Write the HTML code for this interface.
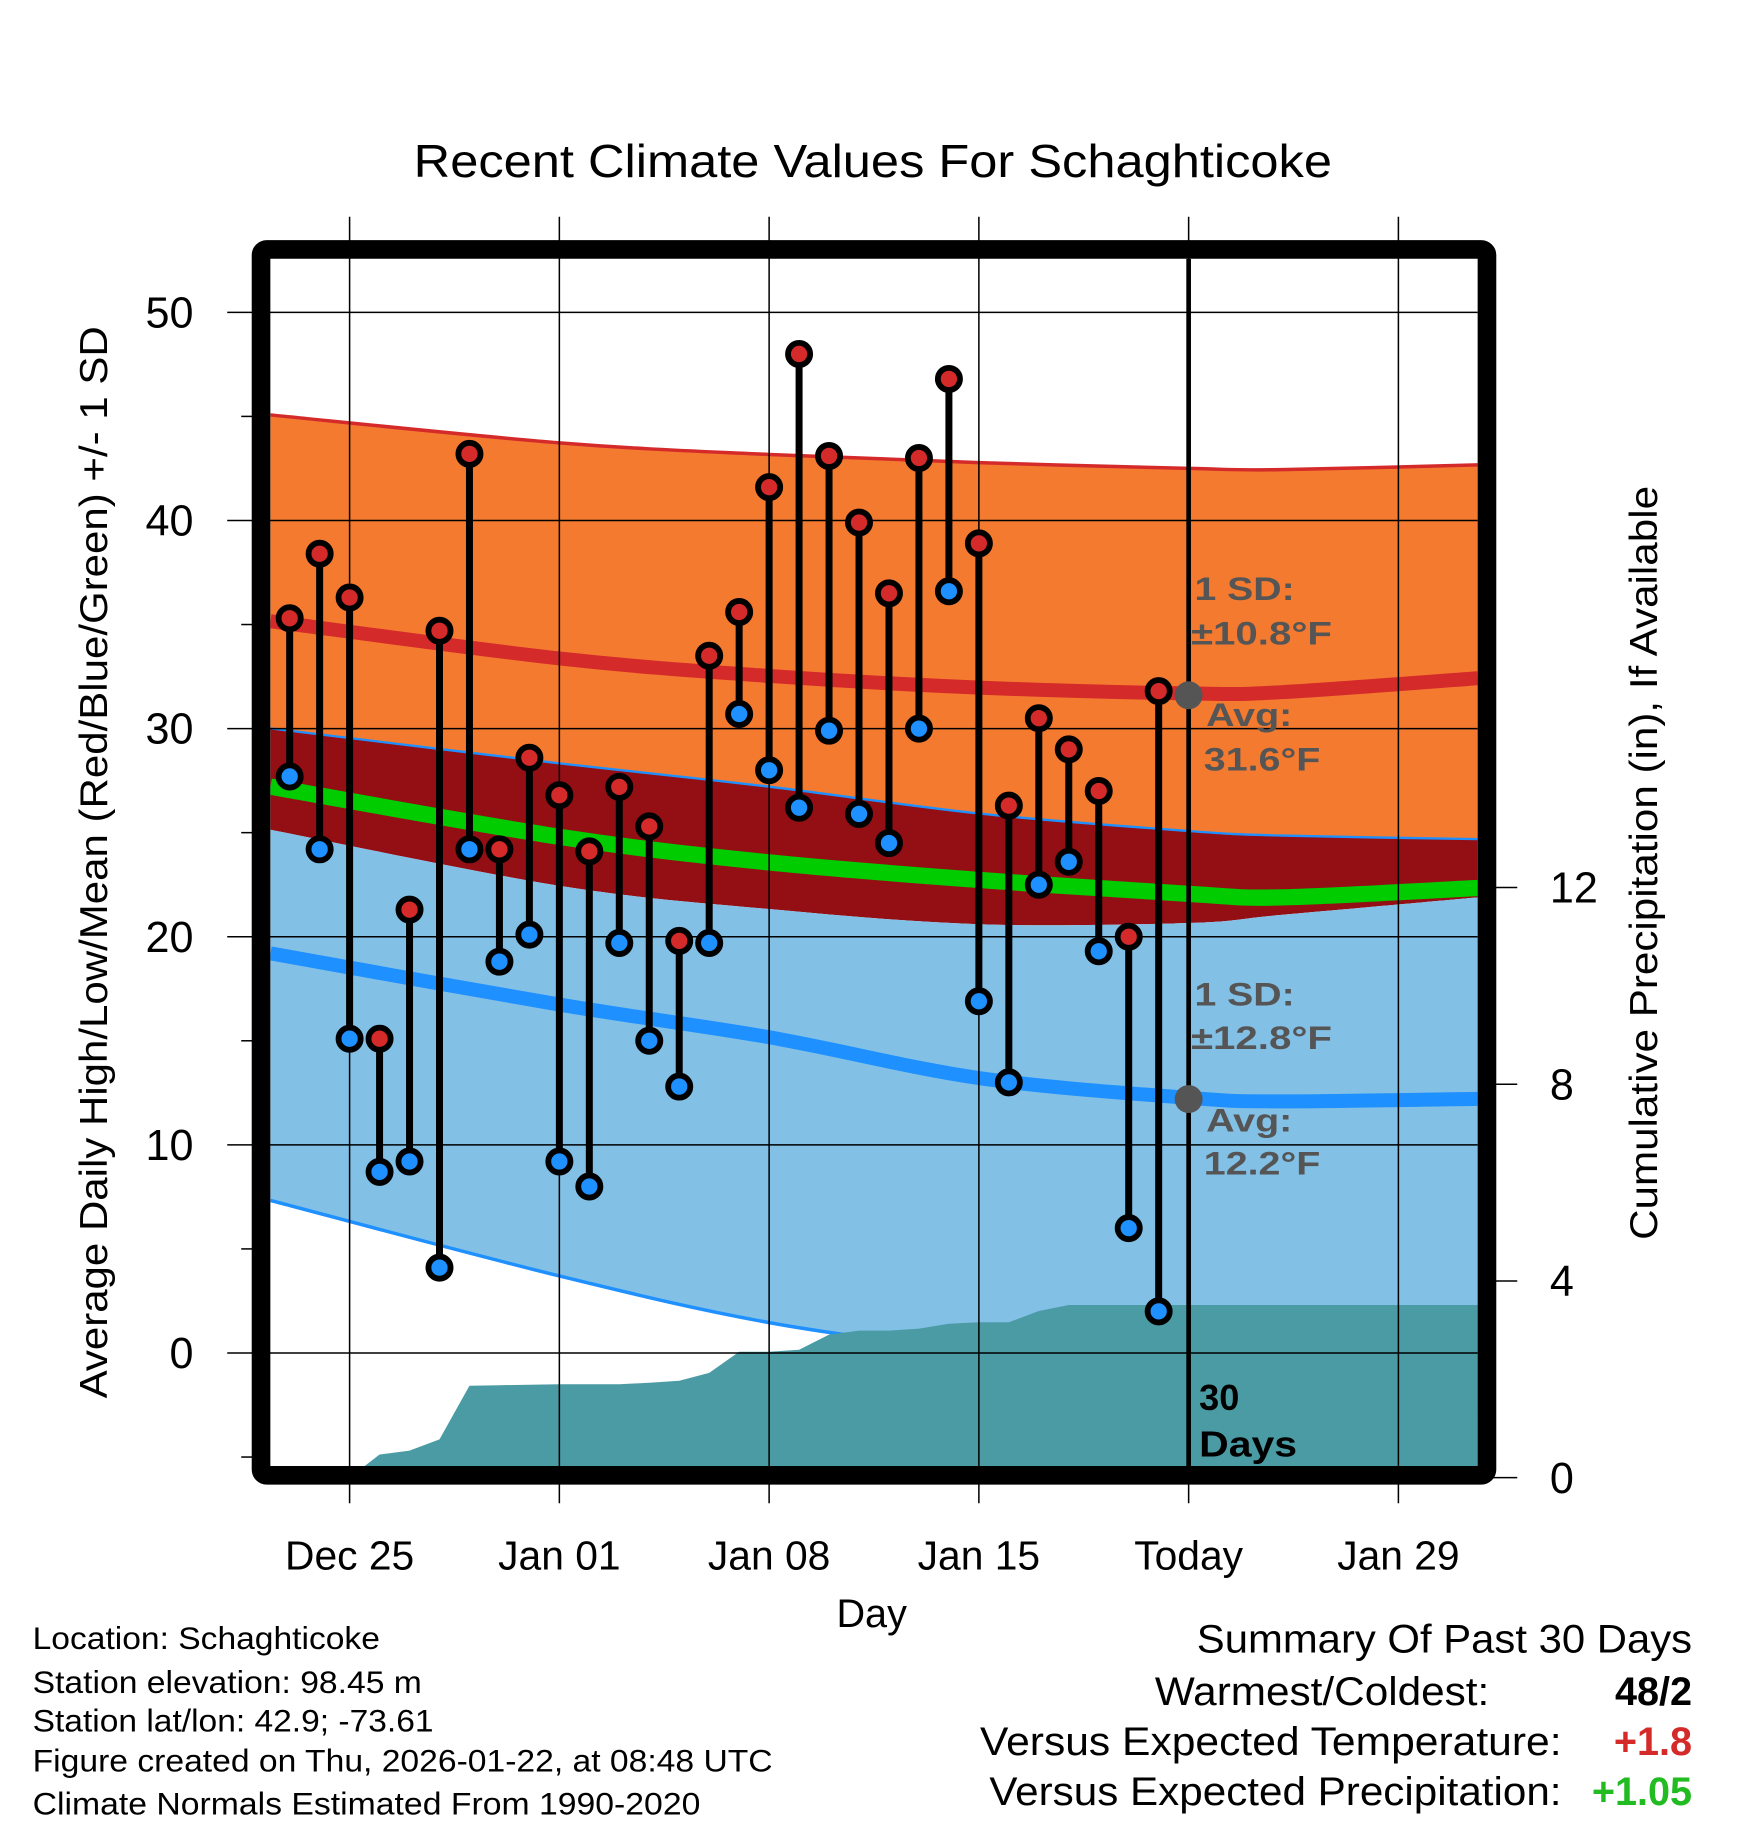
<!DOCTYPE html>
<html><head><meta charset="utf-8"><style>
html,body{margin:0;padding:0;background:#fff;}
svg{display:block;font-family:"Liberation Sans",Arial,sans-serif;}
</style></head><body>
<svg id="chart" width="1748" height="1828" viewBox="0 0 1500 1568.6" xmlns="http://www.w3.org/2000/svg">
<defs><clipPath id="plotclip"><rect x="232" y="222" width="1036" height="1037"/></clipPath></defs>
<rect x="0" y="0" width="1500" height="1569" fill="#fff"/>
<text x="355" y="152" font-size="40" textLength="788" lengthAdjust="spacingAndGlyphs">Recent Climate Values For Schaghticoke</text>
<g id="bands" clip-path="url(#plotclip)"></g>
<g id="grid"></g>
<g id="marks" clip-path="url(#plotclip)"></g>
<g id="axes"></g>
<rect x="224" y="214" width="1052" height="1052" rx="5" fill="none" stroke="#000" stroke-width="16"/>
<g id="annot" font-weight="bold" font-size="28" fill="#555">
<text x="1025" y="515" textLength="86" lengthAdjust="spacingAndGlyphs">1 SD:</text>
<text x="1022" y="553" textLength="121" lengthAdjust="spacingAndGlyphs">±10.8°F</text>
<text x="1035" y="623" textLength="74" lengthAdjust="spacingAndGlyphs">Avg:</text>
<text x="1033" y="661" textLength="100" lengthAdjust="spacingAndGlyphs">31.6°F</text>
<text x="1025" y="863" textLength="86" lengthAdjust="spacingAndGlyphs">1 SD:</text>
<text x="1022" y="900" textLength="121" lengthAdjust="spacingAndGlyphs">±12.8°F</text>
<text x="1035" y="971" textLength="74" lengthAdjust="spacingAndGlyphs">Avg:</text>
<text x="1033" y="1008" textLength="100" lengthAdjust="spacingAndGlyphs">12.2°F</text>
<text x="1029" y="1210" fill="#000" font-size="31">30</text>
<text x="1029" y="1250" fill="#000" font-size="31" textLength="84" lengthAdjust="spacingAndGlyphs">Days</text>
</g>
<text x="748" y="1396" font-size="34" text-anchor="middle">Day</text>
<text transform="translate(92,740) rotate(-90)" font-size="33" x="-460" y="0" textLength="920" lengthAdjust="spacingAndGlyphs">Average Daily High/Low/Mean (Red/Blue/Green) +/- 1 SD</text>
<text transform="translate(1422,741) rotate(-90)" font-size="33" x="-323" y="0" textLength="647" lengthAdjust="spacingAndGlyphs">Cumulative Precipitation (in), If Available</text>
<g font-size="27">
<text x="28" y="1415" textLength="298" lengthAdjust="spacingAndGlyphs">Location: Schaghticoke</text>
<text x="28" y="1453" textLength="334" lengthAdjust="spacingAndGlyphs">Station elevation: 98.45 m</text>
<text x="28" y="1486" textLength="344" lengthAdjust="spacingAndGlyphs">Station lat/lon: 42.9; -73.61</text>
<text x="28" y="1520" textLength="635" lengthAdjust="spacingAndGlyphs">Figure created on Thu, 2026-01-22, at 08:48 UTC</text>
<text x="28" y="1557" textLength="573" lengthAdjust="spacingAndGlyphs">Climate Normals Estimated From 1990-2020</text>
</g>
<g font-size="34">
<text x="1027" y="1418" textLength="425" lengthAdjust="spacingAndGlyphs">Summary Of Past 30 Days</text>
<text x="991" y="1463" textLength="287" lengthAdjust="spacingAndGlyphs">Warmest/Coldest:</text>
<text x="1452" y="1463" text-anchor="end" font-weight="bold">48/2</text>
<text x="841" y="1506" textLength="499" lengthAdjust="spacingAndGlyphs">Versus Expected Temperature:</text>
<text x="1452" y="1506" text-anchor="end" font-weight="bold" fill="#d42a2a">+1.8</text>
<text x="849" y="1549" textLength="491" lengthAdjust="spacingAndGlyphs">Versus Expected Precipitation:</text>
<text x="1452" y="1549" text-anchor="end" font-weight="bold" fill="#22bb22">+1.05</text>
</g>
</svg>
<script>
// Day index: 0 = Dec 25
const highs = [35.3,38.4,36.3,15.1,21.3,34.7,43.2,24.2,28.6,26.8,24.1,27.2,25.3,19.8,33.5,35.6,41.6,48.0,43.1,39.9,36.5,43.0,46.8,38.9,26.3,30.5,29.0,27.0,20.0,31.8];
const lows  = [27.7,24.2,15.1,8.7,9.2,4.1,24.2,18.8,20.1,9.2,8.0,19.7,15.0,12.8,19.7,30.7,28.0,26.2,29.9,25.9,24.5,30.0,36.6,16.9,13.0,22.5,23.6,19.3,6.0,2.0];
const firstDay = -2;
const normalDays = [-2.64,7,14,21,28,31.1,37.65];
const highPlusSD = [45.07,43.73,43.17,42.78,42.50,42.44,42.67];
const avgHigh = [35.16,33.37,32.53,31.97,31.69,31.75,32.42];
const highMinusSD = [30.01,28.33,27.21,25.92,25.08,24.86,24.69];
const avgMean = [27.21,24.80,23.57,22.73,22.06,21.89,22.34];
const lowPlusSD = [25.14,22.45,21.33,20.60,20.66,21.05,21.89];
const avgLow = [19.20,16.74,15.17,13.21,12.26,12.09,12.21];
const lowMinusSD = [7.33,3.70,1.46,0.06,-1.06,-1.6,-2.7];
const precipDays = [0,1,2,3,4,5,6,7,8,9,10,11,12,13,14,15,16,17,18,19,20,21,22,23,24,25,26,27,28];
const precip = [0,0.47,0.55,0.78,1.87,1.88,1.89,1.90,1.90,1.90,1.93,1.97,2.13,2.56,2.56,2.60,2.91,2.99,2.99,3.03,3.13,3.16,3.16,3.39,3.51,3.51,3.51,3.51,3.51];
const xTickDays = [0,7,14,21,28,35];
const xTickLabels = ["Dec 25","Jan 01","Jan 08","Jan 15","Today","Jan 29"];
const yTicks = [0,10,20,30,40,50];
const y2Ticks = [0,4,8,12];
const todayDay = 28;
const todayHigh = 31.6, todayLow = 12.2;

const NS="http://www.w3.org/2000/svg";
const X = d => 300 + d*180/7;
const Y = v => 1161 - v*17.86;
const Y2 = p => 1268 - p*42.2;
function mk(tag, attrs, parent){const e=document.createElementNS(NS,tag);for(const k in attrs)e.setAttribute(k,attrs[k]);parent.appendChild(e);return e;}
function pts(days, vals){return days.map((d,i)=>[X(d),Y(vals[i])]);}
function smooth(p){let s="M"+p[0][0]+","+p[0][1];for(let i=0;i<p.length-1;i++){const p0=p[Math.max(0,i-1)],p1=p[i],p2=p[i+1],p3=p[Math.min(p.length-1,i+2)];
 s+=" C"+(p1[0]+(p2[0]-p0[0])/6)+","+(p1[1]+(p2[1]-p0[1])/6)+" "+(p2[0]-(p3[0]-p1[0])/6)+","+(p2[1]-(p3[1]-p1[1])/6)+" "+p2[0]+","+p2[1];}return s;}
function smoothRev(p){return smooth(p.slice().reverse()).replace(/^M/," L");}
const bands=document.getElementById('bands');
function band(a,b,fill,name){const pa=pts(normalDays,a),pb=pts(normalDays,b);
 const e=mk('path',{d:smooth(pa)+smoothRev(pb)+" Z",fill:fill},bands);
 
 }
band(highPlusSD,highMinusSD,"#f47a30","high-sd-band");
band(highMinusSD,lowPlusSD,"#930f14","overlap-band");
band(lowPlusSD,lowMinusSD,"#82c0e6","low-sd-band");
function line(vals,color,w,name){const e=mk('path',{d:smooth(pts(normalDays,vals)),fill:"none",stroke:color,"stroke-width":w},bands);
 
 }
line(highPlusSD,"#d42a2a",3,"high-plus-sd-line");
line(avgHigh,"#d42a2a",12,"avg-high-line");
line(highMinusSD,"#1e90ff",2,"high-minus-sd-line");
line(avgMean,"#00cc00",14,"avg-mean-line");
line(avgLow,"#1e90ff",12,"avg-low-line");
line(lowMinusSD,"#1e90ff",3,"low-minus-sd-line");
let pd="M"+X(precipDays[0])+","+Y2(0);
precipDays.forEach((d,i)=>{pd+=" L"+X(d)+","+Y2(precip[i]);});
pd+=" L1270,"+Y2(precip[precip.length-1])+" L1270,1270 L"+X(precipDays[0])+",1270 Z";
const pa=mk('path',{d:pd,fill:"#4a9ba4"},bands);


const grid=document.getElementById('grid');
xTickDays.forEach(d=>{const g=mk('line',{x1:X(d),x2:X(d),y1:186,y2:1290,stroke:"#000","stroke-width":1.3},grid);
 
 });
yTicks.forEach(v=>{const g=mk('line',{x1:195,x2:1268,y1:Y(v),y2:Y(v),stroke:"#000","stroke-width":1.3},grid);
 
 });
const axes=document.getElementById('axes');
[-5,5,15,25,35,45].forEach(v=>{const t=mk('line',{x1:207,x2:220,y1:Y(v),y2:Y(v),stroke:"#000","stroke-width":1.3},axes);
 
 });
yTicks.forEach(v=>{const t=mk('text',{x:166,y:Y(v)+13,"font-size":37,"text-anchor":"end"},axes);t.textContent=v;
 
 });
y2Ticks.forEach(p=>{const l=mk('line',{x1:1280,x2:1302,y1:Y2(p),y2:Y2(p),stroke:"#000","stroke-width":1.3},axes);
 
 
 const t=mk('text',{x:1330,y:Y2(p)+13,"font-size":37},axes);t.textContent=p;
 
 });
xTickDays.forEach((d,i)=>{const t=mk('text',{x:X(d),y:1347,"font-size":35,"text-anchor":"middle"},axes);t.textContent=xTickLabels[i];
 
 });
const marks=document.getElementById('marks');
const tl=mk('line',{x1:X(todayDay),x2:X(todayDay),y1:222,y2:1262,stroke:"#000","stroke-width":4},marks);


highs.forEach((h,i)=>{const x=X(firstDay+i);
 const s=mk('line',{x1:x,x2:x,y1:Y(h),y2:Y(lows[i]),stroke:"#000","stroke-width":6},marks);
 
 });
highs.forEach((h,i)=>{const x=X(firstDay+i);
 const a=mk('circle',{cx:x,cy:Y(h),r:9.5,fill:"#d42a2a",stroke:"#000","stroke-width":5},marks);
 
 
 const b=mk('circle',{cx:x,cy:Y(lows[i]),r:9.5,fill:"#1e90ff",stroke:"#000","stroke-width":5},marks);
 
 });
const th=mk('circle',{cx:X(todayDay),cy:Y(todayHigh),r:12,fill:"#555"},marks);


const tw=mk('circle',{cx:X(todayDay),cy:Y(todayLow),r:12,fill:"#555"},marks);


</script>
</body></html>
